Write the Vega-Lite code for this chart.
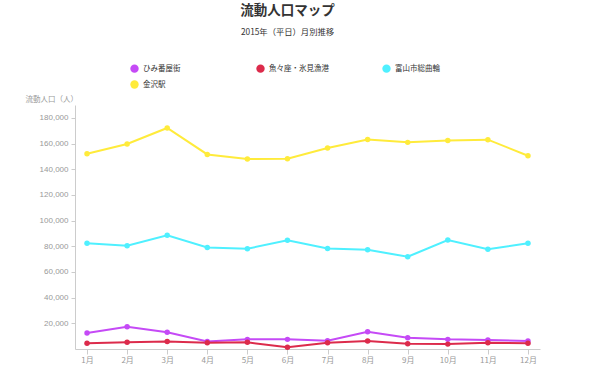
{
  "$schema": "https://vega.github.io/schema/vega-lite/v6.json",
  "autosize": "none",
  "width": 465,
  "height": 244,
  "padding": {"left": 75, "top": 105, "right": 60, "bottom": 18},
  "background": "white",
  "title": {
    "text": "流動人口マップ",
    "subtitle": "2015年（平日）月別推移",
    "anchor": "middle",
    "dx": -20,
    "offset": 28,
    "font": "Noto Sans CJK JP",
    "fontSize": 13.5,
    "fontWeight": "bold",
    "color": "#333333",
    "subtitleFont": "Noto Sans CJK JP",
    "subtitleFontSize": 8.3,
    "subtitleColor": "#333333",
    "subtitlePadding": 10
  },
  "data": {
    "values": [
      {"month": "1月", "place": "ひみ番屋街", "value": 12400},
      {"month": "2月", "place": "ひみ番屋街", "value": 17400},
      {"month": "3月", "place": "ひみ番屋街", "value": 13000},
      {"month": "4月", "place": "ひみ番屋街", "value": 5900},
      {"month": "5月", "place": "ひみ番屋街", "value": 7500},
      {"month": "6月", "place": "ひみ番屋街", "value": 7500},
      {"month": "7月", "place": "ひみ番屋街", "value": 6500},
      {"month": "8月", "place": "ひみ番屋街", "value": 13500},
      {"month": "9月", "place": "ひみ番屋街", "value": 8800},
      {"month": "10月", "place": "ひみ番屋街", "value": 7500},
      {"month": "11月", "place": "ひみ番屋街", "value": 7000},
      {"month": "12月", "place": "ひみ番屋街", "value": 6200},
      {"month": "1月", "place": "魚々座・氷見漁港", "value": 4400},
      {"month": "2月", "place": "魚々座・氷見漁港", "value": 5200},
      {"month": "3月", "place": "魚々座・氷見漁港", "value": 5900},
      {"month": "4月", "place": "魚々座・氷見漁港", "value": 4900},
      {"month": "5月", "place": "魚々座・氷見漁港", "value": 5200},
      {"month": "6月", "place": "魚々座・氷見漁港", "value": 1300},
      {"month": "7月", "place": "魚々座・氷見漁港", "value": 4900},
      {"month": "8月", "place": "魚々座・氷見漁港", "value": 6200},
      {"month": "9月", "place": "魚々座・氷見漁港", "value": 4100},
      {"month": "10月", "place": "魚々座・氷見漁港", "value": 3800},
      {"month": "11月", "place": "魚々座・氷見漁港", "value": 4900},
      {"month": "12月", "place": "魚々座・氷見漁港", "value": 4400},
      {"month": "1月", "place": "富山市総曲輪", "value": 82300},
      {"month": "2月", "place": "富山市総曲輪", "value": 80400},
      {"month": "3月", "place": "富山市総曲輪", "value": 88500},
      {"month": "4月", "place": "富山市総曲輪", "value": 79100},
      {"month": "5月", "place": "富山市総曲輪", "value": 78100},
      {"month": "6月", "place": "富山市総曲輪", "value": 84600},
      {"month": "7月", "place": "富山市総曲輪", "value": 78300},
      {"month": "8月", "place": "富山市総曲輪", "value": 77300},
      {"month": "9月", "place": "富山市総曲輪", "value": 71800},
      {"month": "10月", "place": "富山市総曲輪", "value": 84800},
      {"month": "11月", "place": "富山市総曲輪", "value": 77600},
      {"month": "12月", "place": "富山市総曲輪", "value": 82300},
      {"month": "1月", "place": "金沢駅", "value": 152000},
      {"month": "2月", "place": "金沢駅", "value": 159600},
      {"month": "3月", "place": "金沢駅", "value": 172100},
      {"month": "4月", "place": "金沢駅", "value": 151500},
      {"month": "5月", "place": "金沢駅", "value": 147900},
      {"month": "6月", "place": "金沢駅", "value": 148100},
      {"month": "7月", "place": "金沢駅", "value": 156500},
      {"month": "8月", "place": "金沢駅", "value": 163200},
      {"month": "9月", "place": "金沢駅", "value": 160900},
      {"month": "10月", "place": "金沢駅", "value": 162400},
      {"month": "11月", "place": "金沢駅", "value": 163000},
      {"month": "12月", "place": "金沢駅", "value": 150500}
    ]
  },
  "mark": {"type": "line", "strokeWidth": 2, "point": {"filled": true, "size": 30, "opacity": 1}},
  "encoding": {
    "x": {
      "field": "month",
      "type": "ordinal",
      "sort": ["1月","2月","3月","4月","5月","6月","7月","8月","9月","10月","11月","12月"],
      "scale": {"type": "point", "padding": 0.3},
      "axis": {
        "title": null,
        "labelAngle": 0,
        "labelFont": "Noto Sans CJK JP",
        "labelFontSize": 8,
        "labelColor": "#999999",
        "domainColor": "#cccccc",
        "tickColor": "#cccccc",
        "tickSize": 5,
        "labelPadding": 2,
        "grid": false
      }
    },
    "y": {
      "field": "value",
      "type": "quantitative",
      "scale": {"domain": [0, 190000], "nice": false},
      "axis": {
        "title": "流動人口（人）",
        "titleFont": "Noto Sans CJK JP",
        "titleFontSize": 7.5,
        "titleFontWeight": "normal",
        "titleColor": "#999999",
        "titleAngle": 0,
        "titleAlign": "left",
        "titleBaseline": "middle",
        "titleX": -50,
        "titleY": -6,
        "values": [20000, 40000, 60000, 80000, 100000, 120000, 140000, 160000, 180000],
        "format": ",d",
        "labelFont": "Liberation Sans",
        "labelFontSize": 8,
        "labelColor": "#999999",
        "domainColor": "#cccccc",
        "tickColor": "#cccccc",
        "tickSize": 4,
        "labelPadding": 3,
        "grid": false
      }
    },
    "color": {
      "field": "place",
      "type": "nominal",
      "scale": {
        "domain": ["ひみ番屋街", "魚々座・氷見漁港", "富山市総曲輪", "金沢駅"],
        "range": ["#c54af6", "#dc2b4b", "#4ff0ff", "#ffeb3b"]
      },
      "legend": {
        "title": null,
        "orient": "none",
        "legendX": 55,
        "legendY": -41,
        "direction": "horizontal",
        "columns": 3,
        "gridAlign": "all",
        "columnPadding": 53,
        "rowPadding": 7,
        "symbolType": "circle",
        "symbolSize": 70,
        "symbolStrokeWidth": 0,
        "symbolOpacity": 1,
        "labelFont": "Noto Sans CJK JP",
        "labelFontSize": 7.5,
        "labelColor": "#333333",
        "labelOffset": 4
      }
    }
  },
  "config": {"view": {"stroke": null}}
}
